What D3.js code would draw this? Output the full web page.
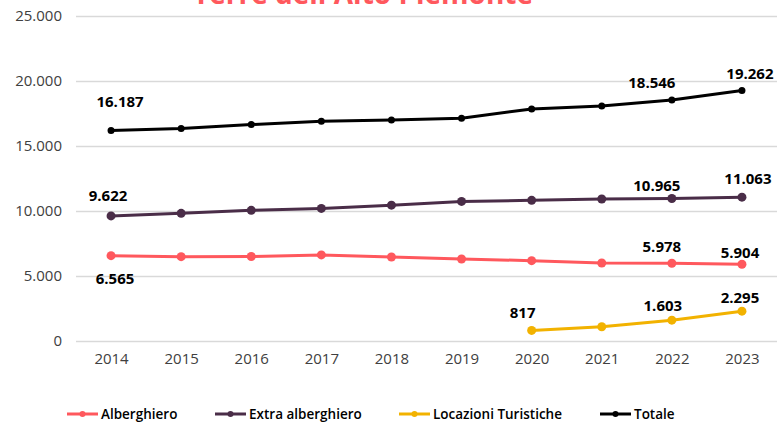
<!DOCTYPE html>
<html>
<head>
<meta charset="utf-8">
<script src="https://cdn.jsdelivr.net/npm/d3@7"></script>
<style>
  body { margin: 0; background: #fff; }
  svg { display: block; font-family: "Open Sans", sans-serif; }
</style>
</head>
<body>
<div id="chart"></div>
<script>
// Dati
const anni = [2014, 2015, 2016, 2017, 2018, 2019, 2020, 2021, 2022, 2023];
const alberghiero = [6565, 6490, 6500, 6620, 6460, 6310, 6180, 6000, 5978, 5904];
const extraAlberghiero = [9622, 9820, 10050, 10200, 10450, 10740, 10820, 10920, 10965, 11063];
const locazioni = [null, null, null, null, null, null, 817, 1100, 1603, 2295];
const totale = [16187, 16350, 16650, 16900, 17000, 17130, 17850, 18080, 18546, 19262];
const yTicks = [0, 5000, 10000, 15000, 20000, 25000];

const serie = [
  {nome: "Alberghiero", valori: alberghiero, colore: "#ff585d", r: 4.5},
  {nome: "Extra alberghiero", valori: extraAlberghiero, colore: "#4a2d48", r: 4.5},
  {nome: "Locazioni Turistiche", valori: locazioni, colore: "#f2b200", r: 4.5},
  {nome: "Totale", valori: totale, colore: "#000000", r: 3.5}
];

// etichette dei valori (serie, anno, spostamento)
const etichette = [
  {s: 3, anno: 2014, dx: 9, dy: -30},
  {s: 3, anno: 2022, dx: -20, dy: -18},
  {s: 3, anno: 2023, dx: 8, dy: -18},
  {s: 1, anno: 2014, dx: -3, dy: -21},
  {s: 1, anno: 2022, dx: -15, dy: -13},
  {s: 1, anno: 2023, dx: 6, dy: -19},
  {s: 0, anno: 2014, dx: 4, dy: 22},
  {s: 0, anno: 2022, dx: -10, dy: -17},
  {s: 0, anno: 2023, dx: -2, dy: -12},
  {s: 2, anno: 2020, dx: -9, dy: -18},
  {s: 2, anno: 2022, dx: -9, dy: -15},
  {s: 2, anno: 2023, dx: -2, dy: -14}
];

const width = 782;
const height = 426;
const fmt = v => d3.format(",")(v).replace(/,/g, ".");

const svg = d3.select("#chart")
  .append("svg")
  .attr("width", width)
  .attr("height", height);

const x = d3.scalePoint()
  .domain(anni)
  .range([76, 777])
  .padding(0.5);

const y = d3.scaleLinear()
  .domain([0, 25000])
  .range([341, 16]);

// titolo (tagliato in alto, come nell'originale)
svg.append("text")
  .attr("x", 363)
  .attr("y", 4)
  .attr("text-anchor", "middle")
  .style("font-size", "28px")
  .style("font-weight", "bold")
  .style("fill", "#ff585d")
  .text("Terre dell'Alto Piemonte");

// griglia + asse y
const yAxis = svg.append("g")
  .attr("transform", "translate(76,0)")
  .call(d3.axisLeft(y).tickValues(yTicks).tickSize(-701).tickFormat(fmt).tickPadding(14));
yAxis.select(".domain").remove();
yAxis.selectAll(".tick line").attr("stroke", "#d9d9d9").attr("stroke-width", 1.3);
yAxis.selectAll(".tick text")
  .style("font-size", "15px")
  .style("font-family", "Open Sans")
  .attr("fill", "#404040");

// asse x
const xAxis = svg.append("g")
  .attr("transform", "translate(0,341)")
  .call(d3.axisBottom(x).tickSize(0).tickPadding(12));
xAxis.select(".domain").remove();
xAxis.selectAll(".tick text")
  .style("font-size", "15px")
  .style("font-family", "Open Sans")
  .attr("fill", "#404040");

const line = d3.line()
  .defined(d => d.v != null)
  .x(d => x(d.anno))
  .y(d => y(d.v));

serie.forEach(s => {
  const punti = anni.map((a, i) => ({anno: a, v: s.valori[i]}));
  svg.append("path")
    .datum(punti)
    .attr("d", line)
    .attr("fill", "none")
    .attr("stroke", s.colore)
    .attr("stroke-width", 3)
    .attr("stroke-linejoin", "round");
  svg.selectAll(null)
    .data(punti.filter(d => d.v != null))
    .enter()
    .append("circle")
    .attr("cx", d => x(d.anno))
    .attr("cy", d => y(d.v))
    .attr("r", s.r)
    .attr("fill", s.colore);
});

// etichette
svg.selectAll(".lbl")
  .data(etichette)
  .enter()
  .append("text")
  .attr("class", "lbl")
  .attr("x", d => x(d.anno) + d.dx)
  .attr("y", d => y(serie[d.s].valori[anni.indexOf(d.anno)]) + d.dy)
  .attr("text-anchor", "middle")
  .attr("dominant-baseline", "central")
  .style("font-size", "15px")
  .style("font-weight", "bold")
  .style("fill", "#000")
  .text(d => fmt(serie[d.s].valori[anni.indexOf(d.anno)]));

// legenda
const legX = [67, 215, 399, 600];
const leg = svg.selectAll(".leg")
  .data(serie)
  .enter()
  .append("g")
  .attr("class", "leg")
  .attr("transform", (d, i) => `translate(${legX[i]},414)`);
leg.append("line")
  .attr("x1", 0).attr("x2", 31)
  .attr("stroke", d => d.colore)
  .attr("stroke-width", 3);
leg.append("circle")
  .attr("cx", 15.5)
  .attr("r", 3)
  .attr("fill", d => d.colore);
leg.append("text")
  .attr("x", 34)
  .attr("dominant-baseline", "central")
  .style("font-size", "13.5px")
  .style("font-weight", 600)
  .style("fill", "#000")
  .text(d => d.nome);
</script>
</body>
</html>
